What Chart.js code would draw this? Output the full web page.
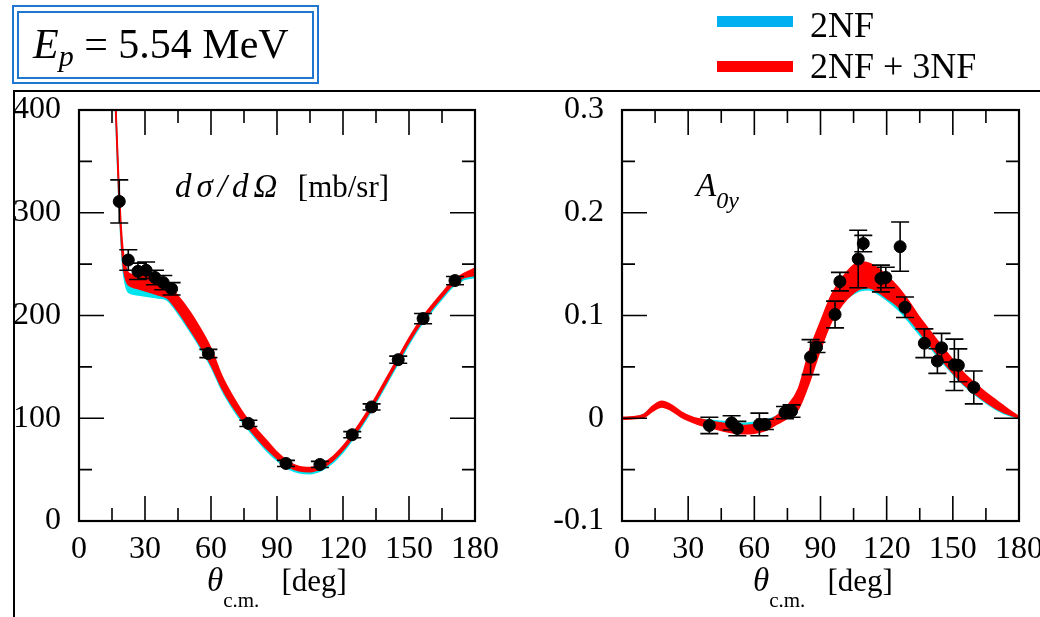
<!DOCTYPE html>
<html>
<head>
<meta charset="utf-8">
<script src="https://cdn.jsdelivr.net/npm/chart.js"></script>
<style>
  html, body { margin:0; padding:0; width:1040px; height:617px; overflow:hidden; background:#fff; }
  body { position:relative; font-family:'Liberation Serif', 'Times New Roman', serif; color:#000; }
  canvas { position:absolute; top:0; }
  #cs { left:0; }
  #ay { left:520px; }
  .txt { position:absolute; white-space:nowrap; line-height:1; }
  .txt sub { line-height:0; }
  .box { position:absolute; border:2px solid #1f77d0; }
  .bar { position:absolute; }
</style>
</head>
<body>
<canvas id="cs" width="520" height="617"></canvas>
<canvas id="ay" width="545" height="617"></canvas>

<div class="box" style="left:12px;top:5px;width:303px;height:75px;"></div>
<div class="box" style="left:17px;top:11px;width:293px;height:64px;"></div>
<div class="txt" style="left:33px;top:23px;font-size:42px;"><i>E</i><sub style="font-size:30px;font-style:italic;vertical-align:-8px;">p</sub> = 5.54 MeV</div>

<div class="bar" style="left:717px;top:16px;width:76px;height:11px;background:#00b0f0;"></div>
<div class="bar" style="left:717px;top:61px;width:76px;height:11px;background:#ff0000;"></div>
<div class="txt" style="left:810px;top:7px;font-size:36px;">2NF</div>
<div class="txt" style="left:810px;top:48px;font-size:36px;">2NF + 3NF</div>

<div class="bar" style="left:13px;top:90px;width:1027px;height:2px;background:#000;"></div>
<div class="bar" style="left:13px;top:90px;width:2px;height:527px;background:#000;"></div>

<div class="txt" style="left:175px;top:170px;font-size:31px;"><i style="font-size:33px;letter-spacing:5px;">dσ/dΩ</i>&nbsp; [mb/sr]</div>
<div class="txt" style="left:696px;top:169px;font-size:33px;"><i>A</i><sub style="font-size:24px;font-style:italic;vertical-align:-12px;">0y</sub></div>

<div class="txt" style="left:207px;top:564px;font-size:31px;"><i style="font-size:33px;">θ</i><sub style="font-size:21px;vertical-align:-16px;margin-right:22px;">c.m.</sub>[deg]</div>
<div class="txt" style="left:753px;top:564px;font-size:31px;"><i style="font-size:33px;">θ</i><sub style="font-size:21px;vertical-align:-16px;margin-right:22px;">c.m.</sub>[deg]</div>

<script>
// cross section panel: theory bands (2NF = cyan, 2NF+3NF = red)
const angTheoryL = [12, 14, 16, 17, 18, 19, 20, 21, 22, 24, 27, 30, 33, 36, 40, 45, 50, 55, 60, 65, 70, 75, 80, 85, 90, 95, 100, 105, 110, 115, 120, 125, 130, 135, 140, 145, 150, 155, 160, 165, 170, 175, 180];
const redLoL  = [990, 630, 440, 380, 322, 280, 250, 237, 231, 228, 226, 224, 222, 220, 217, 204, 188, 171, 152, 129, 111, 96, 83, 71, 61, 53, 49, 48, 51, 58, 69, 83, 99, 117, 136, 155, 174, 191, 205, 218, 230, 237, 239];
const redHiL  = [1000, 640, 450, 390, 335, 292, 264, 250, 243, 240, 240, 240, 238, 235, 230, 219, 205, 188, 168, 141, 121, 104, 91, 79, 67, 58, 53, 52, 55, 62, 73, 87, 103, 121, 140, 159, 178, 195, 209, 222, 234, 241, 246];
const cyanLoL = [986, 626, 437, 377, 319, 276, 245, 231, 224, 221, 220, 219, 218, 217, 215, 202, 186, 169, 150, 127, 109, 94, 81, 69, 59, 51, 47, 46, 49, 56, 67, 81, 97, 115, 134, 153, 172, 189, 203, 216, 228, 235, 237];
const cyanHiL = [995, 635, 446, 386, 330, 286, 256, 242, 235, 232, 231, 230, 229, 227, 225, 214, 199, 182, 161, 135, 116, 99, 87, 75, 64, 55, 51, 50, 53, 60, 71, 85, 101, 119, 138, 157, 176, 193, 207, 220, 232, 239, 243];
// cross section data
const angDataL = [18.3, 22.4, 26.8, 30.5, 34.5, 38.3, 42.1, 58.8, 77, 94.1, 109.5, 124.2, 133, 145.1, 156.4, 170.9];
const xsData   = [311, 254, 243, 244, 237, 232, 226, 163, 95, 56, 55, 84, 111, 157, 197, 234];
const xsErr    = [21, 10, 8, 8, 7, 7, 6, 4, 3, 3, 3, 3, 3, 3.5, 5, 4];

// analyzing power panel
const angTheoryR = [0, 5, 10, 14, 18, 22, 27, 32, 36, 40, 45, 50, 55, 60, 65, 70, 75, 80, 85, 90, 95, 100, 105, 108, 112, 116, 120, 125, 130, 135, 140, 145, 150, 155, 160, 165, 170, 175, 180];
const redLoR  = [-0.001, -0.0005, 0.001, 0.007, 0.011, 0.008, 0.001, -0.004, -0.007, -0.009, -0.012, -0.014, -0.015, -0.0145, -0.012, -0.006, 0.0, 0.009, 0.035, 0.067, 0.094, 0.111, 0.122, 0.126, 0.127, 0.123, 0.117, 0.109, 0.097, 0.084, 0.070, 0.057, 0.044, 0.033, 0.024, 0.016, 0.009, 0.004, 0.0];
const redHiR  = [0.001, 0.0015, 0.004, 0.012, 0.0165, 0.0135, 0.006, 0.001, -0.001, -0.003, -0.0045, -0.006, -0.007, -0.006, -0.004, 0.002, 0.012, 0.029, 0.066, 0.094, 0.120, 0.137, 0.149, 0.152, 0.151, 0.146, 0.139, 0.128, 0.114, 0.098, 0.084, 0.070, 0.057, 0.044, 0.034, 0.025, 0.017, 0.009, 0.0015];
const cyanLoR = [-0.0005, 0, 0.002, 0.008, 0.012, 0.009, 0.002, -0.003, -0.005, -0.007, -0.009, -0.011, -0.012, -0.011, -0.009, -0.004, 0.002, 0.013, 0.040, 0.070, 0.097, 0.113, 0.121, 0.124, 0.125, 0.121, 0.115, 0.106, 0.094, 0.081, 0.068, 0.055, 0.043, 0.032, 0.023, 0.015, 0.008, 0.003, 0.0];
const cyanHiR = [0.0005, 0.001, 0.004, 0.011, 0.015, 0.012, 0.005, 0.0, -0.001, -0.002, -0.003, -0.004, -0.005, -0.004, -0.002, 0.002, 0.008, 0.020, 0.050, 0.080, 0.106, 0.120, 0.127, 0.129, 0.130, 0.126, 0.121, 0.112, 0.100, 0.087, 0.073, 0.060, 0.048, 0.037, 0.027, 0.019, 0.012, 0.006, 0.001];
const angDataR = [39.6, 49.7, 52.3, 62.3, 64.8, 73.9, 76.9, 85.5, 88.2, 96.6, 98.8, 107.1, 109.4, 117.4, 119.6, 126.1, 128.3, 137.1, 143, 144.9, 150.7, 152.5, 159.5];
const ayData   = [-0.007, -0.0045, -0.010, -0.006, -0.006, 0.0055, 0.007, 0.0595, 0.069, 0.101, 0.133, 0.155, 0.170, 0.136, 0.137, 0.167, 0.108, 0.073, 0.0557, 0.0686, 0.052, 0.0515, 0.030];
const ayErr    = [0.008, 0.007, 0.007, 0.011, 0.005, 0.006, 0.006, 0.017, 0.005, 0.013, 0.009, 0.028, 0.008, 0.013, 0.010, 0.024, 0.010, 0.014, 0.012, 0.014, 0.025, 0.016, 0.016];

const tickFont = {family: 'Liberation Serif', size: 32};
const red = '#ff0000';
const cyan = 'rgb(0,228,240)';

function pts(xs, ys) {
  return xs.map((x, i) => ({x: x, y: ys[i]}));
}

function band(xs, lo, hi, color, order) {
  return [
    {data: pts(xs, lo), borderColor: color, borderWidth: 1.5, pointRadius: 0, cubicInterpolationMode: 'monotone', fill: false, order: order},
    {data: pts(xs, hi), borderColor: color, backgroundColor: color, borderWidth: 1.5, pointRadius: 0, cubicInterpolationMode: 'monotone', fill: '-1', order: order}
  ];
}

// inward ticks on all four sides + frame
const frameTicks = {
  id: 'frameTicks',
  afterDatasetsDraw(chart, args, opts) {
    const {ctx, chartArea: a, scales: {x, y}} = chart;
    ctx.save();
    ctx.strokeStyle = '#000';
    ctx.lineWidth = 1.6;
    ctx.beginPath();
    for (let i = 0; i <= 12; i++) {
      const px = x.getPixelForValue(i * 15);
      const len = i % 2 === 0 ? 25 : 13;
      ctx.moveTo(px, a.bottom); ctx.lineTo(px, a.bottom - len);
      ctx.moveTo(px, a.top); ctx.lineTo(px, a.top + len);
    }
    const n = Math.round((y.max - y.min) / opts.yMinor);
    for (let i = 0; i <= n; i++) {
      const py = y.getPixelForValue(y.min + i * opts.yMinor);
      const len = i % 2 === 0 ? 25 : 13;
      ctx.moveTo(a.left, py); ctx.lineTo(a.left + len, py);
      ctx.moveTo(a.right, py); ctx.lineTo(a.right - len, py);
    }
    ctx.stroke();
    ctx.lineWidth = 2.2;
    ctx.strokeRect(a.left, a.top, a.width, a.height);
    ctx.restore();
  }
};

const errorBars = {
  id: 'errorBars',
  afterDatasetsDraw(chart) {
    const ctx = chart.ctx, y = chart.scales.y;
    chart.data.datasets.forEach((ds, i) => {
      if (!ds.errors) return;
      const meta = chart.getDatasetMeta(i);
      ctx.save();
      ctx.strokeStyle = '#000';
      ctx.lineWidth = 1.6;
      ctx.beginPath();
      meta.data.forEach((p, j) => {
        const v = ds.data[j].y, e = ds.errors[j];
        const t = y.getPixelForValue(v + e), b = y.getPixelForValue(v - e);
        ctx.moveTo(p.x, t); ctx.lineTo(p.x, b);
        ctx.moveTo(p.x - 9, t); ctx.lineTo(p.x + 9, t);
        ctx.moveTo(p.x - 9, b); ctx.lineTo(p.x + 9, b);
      });
      ctx.stroke();
      ctx.restore();
    });
  }
};

function makeConfig(datasets, yMin, yMax, yStep, yMinor, yWidth, rightPad, fmt) {
  return {
    type: 'line',
    data: {datasets: datasets},
    options: {
      responsive: false,
      animation: false,
      layout: {padding: {top: 110, right: rightPad, left: 0, bottom: 0}},
      plugins: {legend: {display: false}, tooltip: {enabled: false}, frameTicks: {yMinor: yMinor}},
      scales: {
        x: {
          type: 'linear', min: 0, max: 180,
          grid: {display: false}, border: {display: false},
          ticks: {stepSize: 30, padding: 1, color: '#000', font: tickFont, maxRotation: 0, autoSkip: false},
          afterFit: s => { s.height = 96; }
        },
        y: {
          type: 'linear', min: yMin, max: yMax,
          grid: {display: false}, border: {display: false},
          ticks: {stepSize: yStep, padding: 10, color: '#000', font: tickFont, callback: fmt},
          afterFit: s => { s.width = yWidth; }
        }
      }
    },
    plugins: [errorBars, frameTicks]
  };
}

const dataL = [
  {type: 'scatter', data: pts(angDataL, xsData), errors: xsErr, backgroundColor: '#000', borderColor: '#000', pointRadius: 6, showLine: false, order: 0},
  ...band(angTheoryL, redLoL, redHiL, red, 1),
  ...band(angTheoryL, cyanLoL, cyanHiL, cyan, 2)
];
const chartL = new Chart(
  document.getElementById('cs'),
  makeConfig(dataL, 0, 400, 100, 50, 79, 45, v => v)
);

const dataR = [
  {type: 'scatter', data: pts(angDataR, ayData), errors: ayErr, backgroundColor: '#000', borderColor: '#000', pointRadius: 6, showLine: false, order: 0},
  ...band(angTheoryR, redLoR, redHiR, red, 1),
  ...band(angTheoryR, cyanLoR, cyanHiR, cyan, 2)
];
const chartR = new Chart(
  document.getElementById('ay'),
  makeConfig(dataR, -0.1, 0.3, 0.1, 0.05, 102, 46, v => String(Math.round(v * 10) / 10))
);
</script>
</body>
</html>
